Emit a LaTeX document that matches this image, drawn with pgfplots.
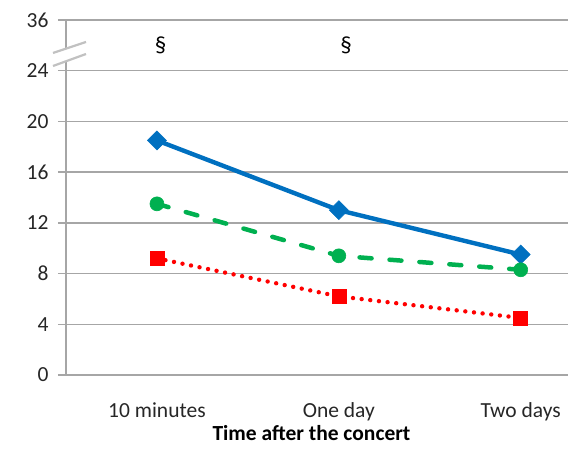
\documentclass[border=0pt]{standalone}
\usepackage{fontspec}
\setmainfont{Carlito}
\usepackage{pgfplots}
\pgfplotsset{compat=1.18}
\definecolor{exblue}{RGB}{0,112,192}
\definecolor{exgreen}{RGB}{0,176,80}
\definecolor{exred}{RGB}{255,0,0}
\definecolor{gridgray}{RGB}{166,166,166}
\definecolor{txt}{RGB}{38,38,38}

\begin{document}
\begin{tikzpicture}
\begin{axis}[
    at={(0pt,0pt)}, anchor=south west,
    width=502pt, height=355pt, scale only axis,
    xmin=-0.5, xmax=2.26,
    ymin=0, ymax=28,
    axis y line*=left, axis x line*=bottom,
    axis line style={gridgray, line width=1.3pt, -},
    xtick={0,1,2},
    xticklabels={10 minutes, One day, Two days},
    ytick={0,4,8,12,16,20,24,28},
    yticklabels={0,4,8,12,16,20,24,36},
    tick align=outside,
    major tick length=8pt,
    x tick style={draw=none},
    y tick style={gridgray, line width=1.3pt},
    ymajorgrids=true,
    grid style={gridgray, line width=1.3pt},
    /pgf/number format/assume math mode=true,
    tick label style={font=\fontsize{21.5}{25}\selectfont, text=txt},
    xticklabel style={anchor=base, yshift=-35pt},
    yticklabel style={xshift=-6pt},
    xlabel={\textbf{Time after the concert}},
    xlabel style={font=\fontsize{21.5}{25}\selectfont, text=black,
        at={(axis description cs:0.489,0)}, anchor=base, yshift=-66pt},
    clip=false,
]

\addplot[color=exblue, line width=4.4pt, mark=square*,
    mark options={solid, rotate=45, mark size=6.7pt, line width=0.6pt}]
    coordinates {(0,18.5) (1,13.0) (2,9.5)};

\addplot[color=exgreen, line width=4.5pt, line cap=round,
    dash pattern=on 12pt off 18pt, mark=*,
    mark options={solid, mark size=7pt, line width=0.6pt}]
    coordinates {(0,13.5) (1,9.4) (2,8.3)};

\addplot[color=exred, line width=4.4pt, line cap=round,
    dash pattern=on 0pt off 8.7pt, mark=square*,
    mark options={solid, mark size=7pt, line width=0.6pt}]
    coordinates {(0,9.2) (1,6.2) (2,4.5)};

\node[font=\fontsize{23}{26}\selectfont] at (axis cs:0.02,26) {\textsection};
\node[font=\fontsize{23}{26}\selectfont] at (axis cs:1.04,26) {\textsection};
\end{axis}

% axis break between 24 and 36
\fill[white] (-13pt,322pt) -- (20pt,333pt) -- (20pt,321pt) -- (-13pt,309pt) -- cycle;
\draw[gridgray!70, line width=2.2pt] (-13pt,322pt) -- (20pt,333pt);
\draw[gridgray!70, line width=2.2pt] (-13pt,309pt) -- (20pt,321pt);

\pgfresetboundingbox
\useasboundingbox (-66pt,-74pt) rectangle (502pt,375pt);
\end{tikzpicture}
\end{document}
